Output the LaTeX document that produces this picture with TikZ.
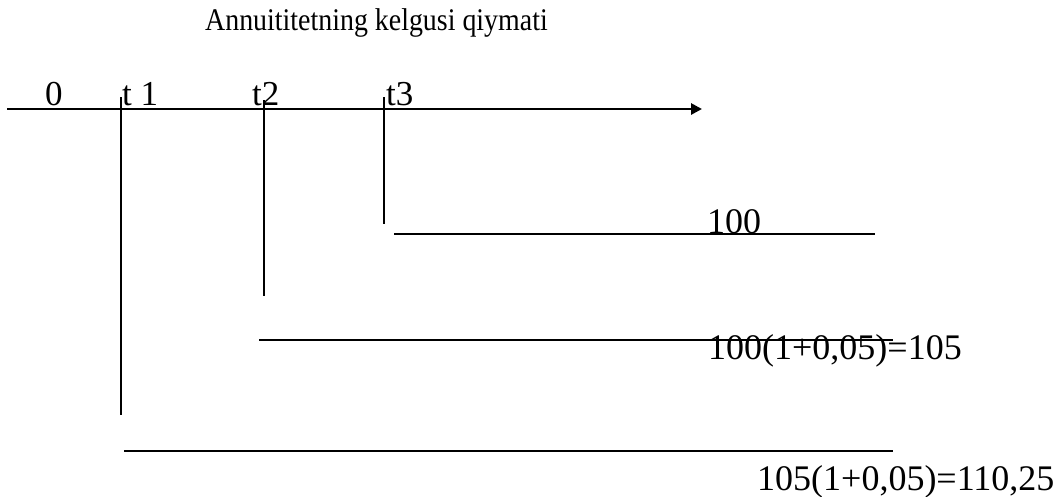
\documentclass[tikz,border=0pt]{standalone}
\usepackage{fontspec}
\setmainfont{Liberation Serif}
\usetikzlibrary{arrows.meta}
\tikzset{
  lbl/.style={inner sep=0pt, anchor=base west, font=\fontsize{35}{37}\selectfont},
  val/.style={inner sep=0pt, anchor=base west, font=\fontsize{36}{38}\selectfont},
  axisline/.style={line width=2.8pt, -{Triangle[length=11pt,width=11pt]}},
  tickline/.style={line width=1.8pt},
  payline/.style={line width=2pt}
}
\begin{document}
\begin{tikzpicture}[x=1pt,y=-1pt]
\useasboundingbox (0,0) rectangle (1063,496);
% title
\node[inner sep=0pt, anchor=base west, font=\fontsize{30}{32}\selectfont] (title) at (205,30) {\scalebox{0.93}[1.05]{Annuititetning kelgusi qiymati}};
% axis
\coordinate (a0) at (7,109);
\coordinate (a1) at (702,109);
\draw[axisline] (a0) -- (a1);
% axis labels
\node[lbl] (l0) at (45,105) {0};
\node[lbl] (lt1) at (122,105) {t 1};
\node[lbl] (lt2) at (252,105) {t2};
\node[lbl] (lt3) at (386,105) {t3};
% ticks
\coordinate (t1a) at (121,97);  \coordinate (t1b) at (121,415);
\coordinate (t2a) at (264,100); \coordinate (t2b) at (264,296);
\coordinate (t3a) at (384,97);  \coordinate (t3b) at (384,224);
\draw[tickline] (t1a) -- (t1b);
\draw[tickline] (t2a) -- (t2b);
\draw[tickline] (t3a) -- (t3b);
% payment lines
\coordinate (p3a) at (394,234); \coordinate (p3b) at (875,234);
\coordinate (p2a) at (259,340); \coordinate (p2b) at (893,340);
\coordinate (p1a) at (124,451); \coordinate (p1b) at (893,451);
\draw[payline] (p3a) -- (p3b);
\draw[payline] (p2a) -- (p2b);
\draw[payline] (p1a) -- (p1b);
% values
\node[val] (v3) at (707,233) {100};
\node[val] (v2) at (708,359) {100(1+0,05)=105};
\node[val] (v1) at (757,490) {105(1+0,05)=110,25};
\end{tikzpicture}
\end{document}
